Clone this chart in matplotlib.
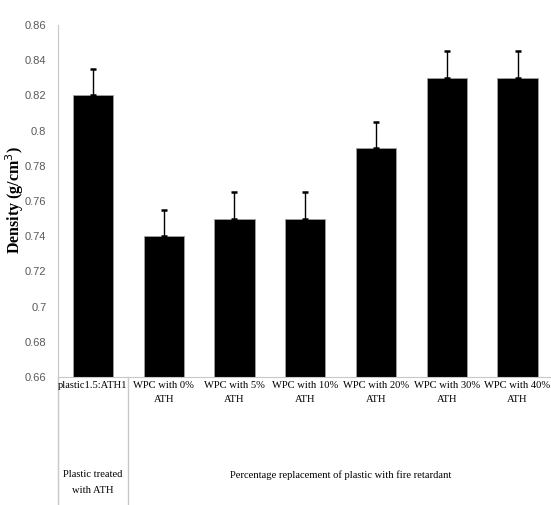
import matplotlib
matplotlib.use("Agg")
from matplotlib import pyplot as plt
import numpy as np

categories = ["plastic1.5:ATH1", "WPC with 0%\nATH", "WPC with 5%\nATH", "WPC with 10%\nATH",
              "WPC with 20%\nATH", "WPC with 30%\nATH", "WPC with 40%\nATH"]
density = [0.82, 0.74, 0.75, 0.75, 0.79, 0.83, 0.83]
errors = [0.015, 0.015, 0.015, 0.015, 0.015, 0.015, 0.015]
yticks = [0.66, 0.68, 0.7, 0.72, 0.74, 0.76, 0.78, 0.8, 0.82, 0.84, 0.86]
ytick_labels = ["0.66", "0.68", "0.7", "0.72", "0.74", "0.76", "0.78", "0.8", "0.82", "0.84", "0.86"]
group_labels = ["Plastic treated\nwith ATH", "Percentage replacement of plastic with fire retardant"]

fig = plt.figure(figsize=(5.51, 5.05), dpi=100)
ax = fig.add_axes([57.6 / 551, 1 - 377 / 505, 495.3 / 551, (377 - 25) / 505])

x = np.arange(len(categories))
ax.bar(x, density, width=0.57, color="black", edgecolor="#a0a0a0", linewidth=0.6, zorder=2)
ax.errorbar(x, density, yerr=[np.zeros(len(errors)), errors], fmt="none",
            ecolor="black", elinewidth=1.0, capsize=2.2, capthick=1.8, zorder=3)

ax.set_xlim(-0.5, len(categories) - 0.5)
ax.set_ylim(0.66, 0.86)
ax.set_yticks(yticks)
ax.set_yticklabels(ytick_labels)
ax.tick_params(axis="y", length=0, pad=8, labelsize=8, labelcolor="#595959")
for lab in ax.get_yticklabels():
    lab.set_family(["Liberation Sans", "DejaVu Sans"])
ax.set_xticks([])

for s in ["top", "right"]:
    ax.spines[s].set_visible(False)
ax.spines["left"].set_color("#c8c8c8")
ax.spines["bottom"].set_color("#c8c8c8")

serif = ["Liberation Serif", "DejaVu Serif"]
trans = ax.get_xaxis_transform()
for i, lab in enumerate(categories):
    ax.text(i, -0.01, lab, transform=trans, ha="center", va="top",
            fontsize=7.6, family=serif, linespacing=1.75)

# group labels and separators below axis
ax.text(0, -0.265, group_labels[0], transform=trans, ha="center", va="top",
        fontsize=7.6, family=serif, linespacing=2.0)
ax.text(3.5, -0.265, group_labels[1], transform=trans, ha="center", va="top",
        fontsize=7.6, family=serif)
for xv in [-0.5, 0.5]:
    ax.plot([xv, xv], [0, -0.37], transform=trans, color="#c8c8c8", lw=1.0, clip_on=False)

fig.text(15 / 551, 1 - 200 / 505, "Density (g/cm$^3$)", rotation=90, ha="center", va="center",
         fontsize=11.5, fontweight="bold", family=serif)

fig.savefig("out.png", dpi=100)
